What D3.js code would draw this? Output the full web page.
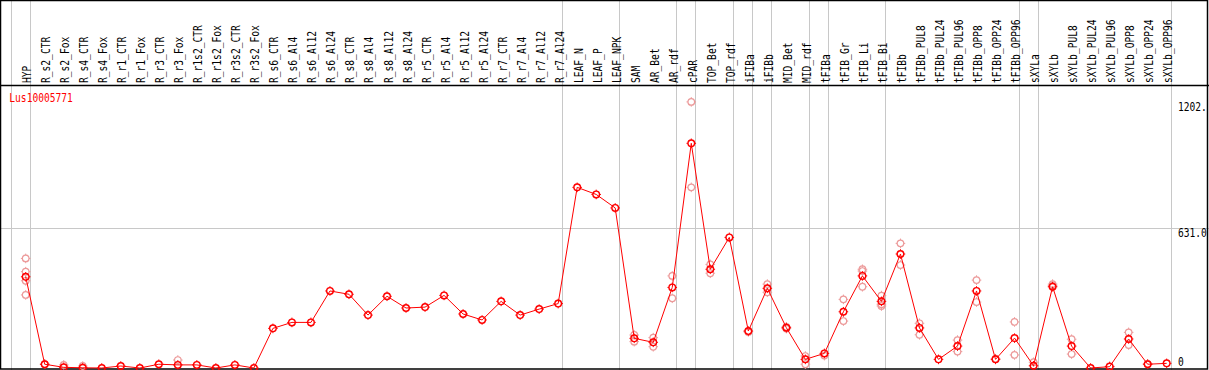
<!DOCTYPE html>
<html>
<head>
<meta charset="utf-8">
<script src="https://cdn.jsdelivr.net/npm/d3@7"></script>
<style>
  body { margin: 0; background: #fff; }
  text { font-family: "DejaVu Sans Mono", monospace; font-size: 12px; }
</style>
</head>
<body>
<div id="chart"></div>
<script>
"use strict"

// Expression profile of one gene across samples

var title = "Lus10005771"

var samples = [
  "HYP", "R_s2_CTR", "R_s2_Fox", "R_s4_CTR", "R_s4_Fox", "R_r1_CTR", "R_r1_Fox",
  "R_r3_CTR", "R_r3_Fox", "R_r1s2_CTR", "R_r1s2_Fox", "R_r3s2_CTR", "R_r3s2_Fox",
  "R_s6_CTR", "R_s6_Al4", "R_s6_Al12", "R_s6_Al24", "R_s8_CTR", "R_s8_Al4",
  "R_s8_Al12", "R_s8_Al24", "R_r5_CTR", "R_r5_Al4", "R_r5_Al12", "R_r5_Al24",
  "R_r7_CTR", "R_r7_Al4", "R_r7_Al12", "R_r7_Al24", "LEAF_N", "LEAF_P", "LEAF_NPK",
  "SAM", "AR_Bet", "AR_rdf", "cPAR", "TOP_Bet", "TOP_rdf", "iFIBa", "iFIBb",
  "MID_Bet", "MID_rdf", "tFIBa", "tFIB_Gr", "tFIB_Li", "tFIB_Bi", "tFIBb",
  "tFIBb_PUL8", "tFIBb_PUL24", "tFIBb_PUL96", "tFIBb_OPP8", "tFIBb_OPP24",
  "tFIBb_OPP96", "sXYLa", "sXYLb", "sXYLb_PUL8", "sXYLb_PUL24", "sXYLb_PUL96",
  "sXYLb_OPP8", "sXYLb_OPP24", "sXYLb_OPP96"
]

// mean values
var means = [
  412, 17, 3, 1, 0, 9, 0, 17, 14, 14, 0, 14, 0,
  179, 206, 206, 348, 333, 239, 324, 271, 275, 328, 244, 217, 301, 239, 266, 291,
  816, 784, 723, 134, 116, 364, 1015, 446, 590, 167, 360, 182, 39,
  66, 254, 416, 301, 515, 181, 39, 99, 348, 39, 135,
  10, 367, 99, 0, 6, 131, 17, 21
]

// single replicates (faint circles)
var replicates = [
  [495, 435, 394, 330], [17], [14], [9], [], [], [], [], [36], [], [], [], [],
  [], [], [], [], [], [], [], [], [], [], [], [], [], [], [], [],
  [], [], [], [149, 119], [137, 96], [416, 315], [1202, 816], [468, 428], [],
  [163], [379, 342], [186, 178], [54, 17],
  [56], [310, 212], [446, 438, 367], [327, 288, 280], [563, 465], [202, 150], [],
  [126, 74], [397, 298], [42], [208, 59],
  [26], [379, 372], [130, 63], [], [8], [161, 104], [19], []
]

// first sample of each group (gray separators)
var groupStarts = [
  "HYP", "R_s2_CTR", "LEAF_N", "SAM", "cPAR", "TOP_Bet", "iFIBa", "iFIBb",
  "MID_Bet", "tFIBa", "tFIB_Gr", "tFIBb", "sXYLa", "sXYLb"
]

var yTicks = [0, 631.0, 1202]
var yTickLabels = ["0", "631.0", "1202."]

var width = 1209
var height = 370
var headerY = 85.5
var plotBottom = 368

var svg = d3.select("#chart").append("svg")
  .attr("width", width)
  .attr("height", height)

var x = d3.scaleBand()
  .domain(samples)
  .range([10.7, 1170.7])

var px = function(name) { return x(name) + 15 }

var y = d3.scaleLinear()
  .domain([0, 1202])
  .range([plotBottom, 101.9])

// gray separators
var seps = groupStarts.map(function(d) { return x(d) })
seps.push(x.range()[1])
svg.append("g").selectAll("line")
  .data(seps)
  .enter().append("line")
    .attr("x1", function(d) { return Math.round(d) + 0.5 })
    .attr("x2", function(d) { return Math.round(d) + 0.5 })
    .attr("y1", 0)
    .attr("y2", height)
    .attr("stroke", "#c8c8c8")
    .attr("stroke-width", 1)

// horizontal grid at middle tick
svg.append("line")
  .attr("x1", 0)
  .attr("x2", width)
  .attr("y1", Math.round(y(631)) + 0.5)
  .attr("y2", Math.round(y(631)) + 0.5)
  .attr("stroke", "#c8c8c8")

// frame
svg.append("rect")
  .attr("x", 0.5)
  .attr("y", 0.5)
  .attr("width", 1207)
  .attr("height", 368.5)
  .attr("fill", "none")
  .attr("stroke", "#000")
  .attr("stroke-width", 1.5)
svg.append("line")
  .attr("x1", 0)
  .attr("x2", width)
  .attr("y1", headerY)
  .attr("y2", headerY)
  .attr("stroke", "#000")
  .attr("stroke-width", 1.5)

// sample labels
svg.append("g").selectAll("text")
  .data(samples)
  .enter().append("text")
    .attr("transform", function(d) {
      return "translate(" + (px(d) + 5.5) + "," + 83 + ") rotate(-90) scale(0.8,1)"
    })
    .attr("fill", "#000")
    .text(function(d) { return d })

// y labels at right
svg.append("g").selectAll("text")
  .data(yTicks)
  .enter().append("text")
    .attr("transform", function(d) {
      var ty = d === 0 ? y(d) - 2 : y(d) + 9
      return "translate(1178," + ty + ") scale(0.8,1)"
    })
    .attr("fill", "#000")
    .text(function(d, i) { return yTickLabels[i] })

// title
svg.append("text")
  .attr("transform", "translate(9.3,101.5) scale(0.8,1)")
  .attr("fill", "#ff0000")
  .text(title)

function marker(g, color, sw) {
  g.append("circle")
    .attr("r", 3.3)
    .attr("fill", "none")
    .attr("stroke", color)
    .attr("stroke-width", sw)
  g.selectAll("line")
    .data([[0, -1], [0, 1], [-1, 0], [1, 0]])
    .enter().append("line")
      .attr("x1", function(d) { return d[0] * 3.3 })
      .attr("y1", function(d) { return d[1] * 3.3 })
      .attr("x2", function(d) { return d[0] * 4.8 })
      .attr("y2", function(d) { return d[1] * 4.8 })
      .attr("stroke", color)
      .attr("stroke-width", 1)
}

// replicate points
var reps = []
replicates.forEach(function(list, i) {
  list.forEach(function(v) { reps.push({ name: samples[i], value: v }) })
})
svg.append("g").selectAll("g")
  .data(reps)
  .enter().append("g")
    .attr("transform", function(d) {
      return "translate(" + px(d.name) + "," + y(d.value) + ")"
    })
    .each(function() { marker(d3.select(this), "#ec9a9a", 1.2) })

// mean line
var line = d3.line()
  .x(function(d, i) { return px(samples[i]) })
  .y(function(d) { return y(d) })

svg.append("path")
  .datum(means)
  .attr("d", line)
  .attr("fill", "none")
  .attr("stroke", "#ff0000")
  .attr("stroke-width", 1)

svg.append("g").selectAll("g")
  .data(means)
  .enter().append("g")
    .attr("transform", function(d, i) {
      return "translate(" + px(samples[i]) + "," + y(d) + ")"
    })
    .each(function() { marker(d3.select(this), "#ff0000", 1.4) })
</script>
</body>
</html>
